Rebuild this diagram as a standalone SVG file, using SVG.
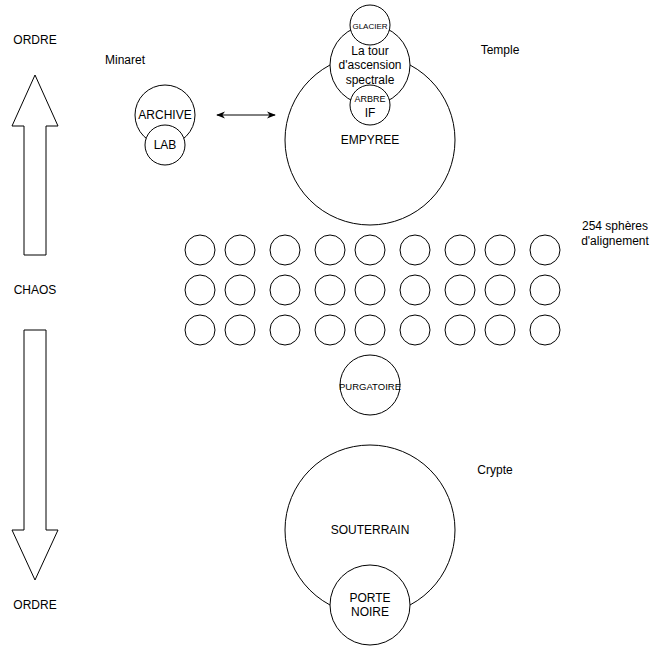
<svg xmlns="http://www.w3.org/2000/svg" width="654" height="651" viewBox="0 0 654 651">
<style>
.n{fill:#fff;stroke:#000;stroke-width:1}
.t{font-family:"Liberation Sans",Arial,sans-serif;font-size:12px;fill:#000;text-anchor:middle;dominant-baseline:central}
.s8{font-size:8px}.s9{font-size:9.5px}.s10{font-size:9px}
</style>
<defs>
<marker id="ah" viewBox="0 0 10 10" refX="9" refY="5" markerWidth="9" markerHeight="9" orient="auto-start-reverse" markerUnits="userSpaceOnUse">
<path d="M0,1 L10,5 L0,9 L3,5 Z" fill="#000"/>
</marker>
</defs>
<rect width="654" height="651" fill="#fff"/>
<g id="labels">
<text class="t" x="35" y="40">ORDRE</text>
<text class="t" x="35" y="290">CHAOS</text>
<text class="t" x="35" y="605">ORDRE</text>
<text class="t" x="125" y="60">Minaret</text>
<text class="t" x="500" y="50">Temple</text>
<text class="t" x="615" y="226">254 sphères</text>
<text class="t" x="615" y="241">d'alignement</text>
<text class="t" x="495" y="470">Crypte</text>
</g>
<g id="arrow-up"><path class="n" d="M35,75 L58,126 L46,126 L46,255 L24,255 L24,126 L12,126 Z"/></g>
<g id="arrow-down"><path class="n" d="M35,580 L58,530 L46,530 L46,330 L24,330 L24,530 L12,530 Z"/></g>
<g id="empyree"><circle class="n" cx="370" cy="140" r="85"/><text class="t" x="370" y="140">EMPYREE</text></g>
<g id="tour"><circle class="n" cx="370" cy="65" r="40"/><text class="t" x="370" y="51">La tour</text><text class="t" x="370" y="65">d'ascension</text><text class="t" x="370" y="80">spectrale</text></g>
<g id="glacier"><circle class="n" cx="370" cy="25" r="20"/><text class="t s8" x="370" y="26">GLACIER</text></g>
<g id="arbre"><circle class="n" cx="370" cy="105" r="20"/><text class="t s10" x="370" y="99">ARBRE</text><text class="t" x="370" y="113">IF</text></g>
<g id="archive"><circle class="n" cx="165" cy="115" r="30"/><text class="t" x="165" y="115">ARCHIVE</text></g>
<g id="lab"><circle class="n" cx="165" cy="145" r="20"/><text class="t" x="165" y="145">LAB</text></g>
<g id="spheres">
<g id="row1">
<circle class="n" cx="200" cy="250" r="15"/><circle class="n" cx="240" cy="250" r="15"/><circle class="n" cx="285" cy="250" r="15"/><circle class="n" cx="330" cy="250" r="15"/><circle class="n" cx="370" cy="250" r="15"/><circle class="n" cx="415" cy="250" r="15"/><circle class="n" cx="460" cy="250" r="15"/><circle class="n" cx="500" cy="250" r="15"/><circle class="n" cx="545" cy="250" r="15"/>
</g>
<g id="row2">
<circle class="n" cx="200" cy="290" r="15"/><circle class="n" cx="240" cy="290" r="15"/><circle class="n" cx="285" cy="290" r="15"/><circle class="n" cx="330" cy="290" r="15"/><circle class="n" cx="370" cy="290" r="15"/><circle class="n" cx="415" cy="290" r="15"/><circle class="n" cx="460" cy="290" r="15"/><circle class="n" cx="500" cy="290" r="15"/><circle class="n" cx="545" cy="290" r="15"/>
</g>
<g id="row3">
<circle class="n" cx="200" cy="330" r="15"/><circle class="n" cx="240" cy="330" r="15"/><circle class="n" cx="285" cy="330" r="15"/><circle class="n" cx="330" cy="330" r="15"/><circle class="n" cx="370" cy="330" r="15"/><circle class="n" cx="415" cy="330" r="15"/><circle class="n" cx="460" cy="330" r="15"/><circle class="n" cx="500" cy="330" r="15"/><circle class="n" cx="545" cy="330" r="15"/>
</g>
</g>
<g id="purgatoire"><circle class="n" cx="370" cy="385" r="30"/><text class="t s9" x="370" y="386">PURGATOIRE</text></g>
<g id="souterrain"><circle class="n" cx="370" cy="530" r="85"/><text class="t" x="370" y="530">SOUTERRAIN</text></g>
<g id="porte-noire"><circle class="n" cx="370" cy="605" r="40"/><text class="t" x="370" y="598">PORTE</text><text class="t" x="370" y="612">NOIRE</text></g>
<g id="connectors">
<line x1="217" y1="115" x2="275" y2="115" stroke="#000" stroke-width="1" marker-start="url(#ah)" marker-end="url(#ah)"/>
</g>
</svg>
